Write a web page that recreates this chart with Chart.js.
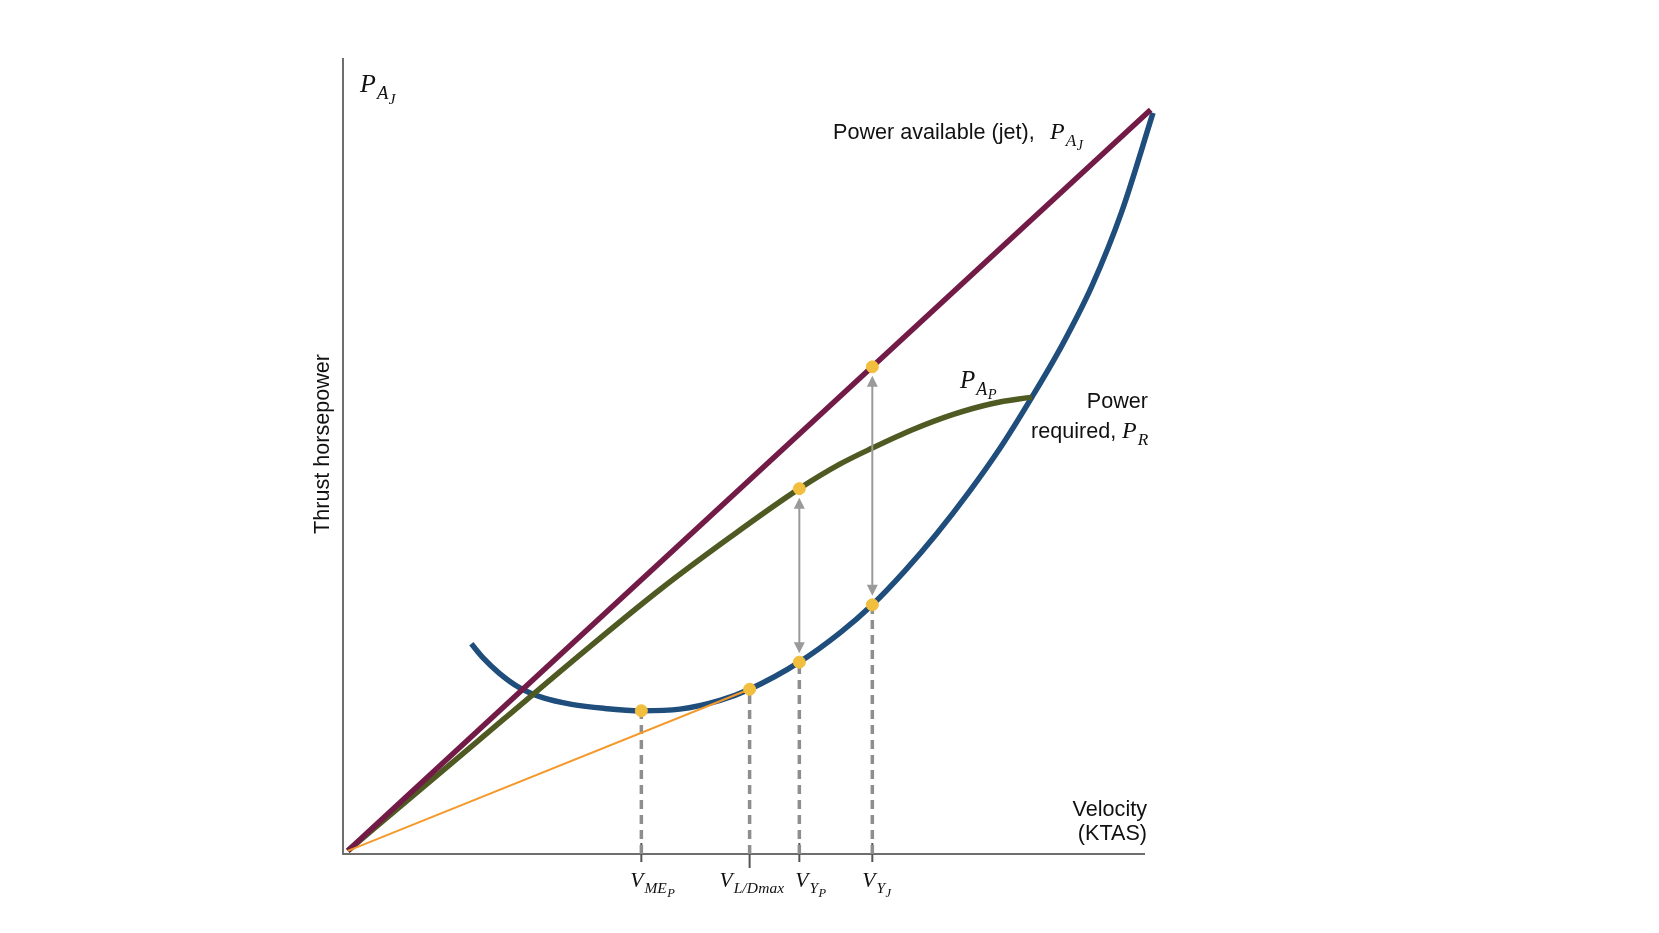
<!DOCTYPE html>
<html>
<head>
<meta charset="utf-8">
<script src="https://cdn.jsdelivr.net/npm/chart.js@4.4.1/dist/chart.umd.min.js"></script>
<style>
    html, body { margin: 0; padding: 0; background: #fff; }
    canvas { display: block; }
</style>
</head>
<body>
<canvas id="myChart" width="1659" height="933"></canvas>
<script>
// velocity (x) and thrust horsepower (y), both in relative units 0..100
const jetVel = [0.6, 100.7];
const jetPower = [0.4, 93.5];

const propVel = [0.6, 10, 20, 30, 39.5, 48, 56.9, 62, 66, 71, 76, 81, 85.9];
const propPower = [0.4, 8.4, 16.9, 25.4, 33.2, 39.6, 45.9, 49.0, 51.0, 53.3, 55.2, 56.6, 57.4];

const reqVel = [16.0, 17.5, 19.5, 22.0, 25.0, 28.5, 32.5, 37.2, 42.0, 47.0, 50.7, 56.9, 62.0, 66.0, 70, 74, 78, 82, 85.9, 89.65, 93.4, 97.1, 101.0];
const reqPower = [26.4, 24.6, 22.7, 20.9, 19.6, 18.8, 18.3, 18.0, 18.2, 19.3, 20.7, 24.1, 27.8, 31.3, 35.5, 40.2, 45.4, 51.1, 57.4, 63.9, 71.4, 80.7, 93.1];

// marked speeds: V_MEp, V_L/Dmax, V_Yp, V_Yj and power required there
const markVel = [37.2, 50.7, 56.9, 66.0];
const markReq = [18.0, 20.7, 24.1, 31.3];
const propAtVyp = 45.9;   // prop power available at V_Yp
const jetAtVyj = 61.2;    // jet power available at V_Yj

// tick labels: [text, level] (level 1 = subscript, 2 = sub-subscript)
const markLabels = [
    [['V', 0], ['ME', 1], ['P', 2]],
    [['V', 0], ['L/D', 1], ['max', 1]],
    [['V', 0], ['Y', 1], ['P', 2]],
    [['V', 0], ['Y', 1], ['J', 2]]
];

const pts = (xs, ys) => xs.map((x, i) => ({ x: x, y: ys[i] }));

const dots = pts(markVel, markReq).concat([
    { x: markVel[2], y: propAtVyp },
    { x: markVel[3], y: jetAtVyj }
]);

// dashed drops from each marked point to the axis
const drops = markVel.map((v, i) => ({
    type: 'line',
    data: [{ x: v, y: 0 }, { x: v, y: markReq[i] }],
    borderColor: '#8e8e8e',
    borderWidth: 3.5,
    borderDash: [9, 6],
    pointRadius: 0,
    clip: false,
    order: 3
}));

const SANS = '21.6px "Liberation Sans", Arial, Helvetica, sans-serif';

// draws italic serif symbols with subscripts
function mathText(ctx, x, y, parts, base) {
    const scale = [1, 0.72, 0.58];
    const drop = [0, 0.28, 0.45];
    ctx.textAlign = 'left';
    ctx.textBaseline = 'alphabetic';
    parts.forEach(([t, l]) => {
        ctx.font = 'italic ' + (base * scale[l]) + 'px "Liberation Serif", "Times New Roman", serif';
        ctx.fillText(t, x, y + base * drop[l]);
        x += ctx.measureText(t).width + (l === 0 ? 1 : 0.5);
    });
}

function arrowHead(ctx, x, y, dir) {
    ctx.beginPath();
    ctx.moveTo(x, y);
    ctx.lineTo(x - 5.5, y + dir * 11);
    ctx.lineTo(x + 5.5, y + dir * 11);
    ctx.closePath();
    ctx.fill();
}

const decorPlugin = {
    id: 'decor',
    beforeDatasetsDraw(chart) {
        const ctx = chart.ctx;
        const xs = chart.scales.x, ys = chart.scales.y;
        const a = chart.chartArea;
        const x0 = xs.getPixelForValue(0), y0 = ys.getPixelForValue(0);
        ctx.save();
        ctx.strokeStyle = '#6e6e6e';
        ctx.lineWidth = 2;
        ctx.beginPath();
        ctx.moveTo(x0, a.top);
        ctx.lineTo(x0, y0);
        ctx.lineTo(a.right, y0);
        ctx.stroke();
        // tick marks at the marked speeds
        ctx.strokeStyle = '#555';
        markVel.forEach((v, i) => {
            const px = xs.getPixelForValue(v);
            ctx.beginPath();
            ctx.moveTo(px, y0 - (i === 1 ? 4 : 11));
            ctx.lineTo(px, y0 + (i === 1 ? 14 : 8));
            ctx.stroke();
        });
        ctx.restore();
    },
    beforeDatasetDraw(chart, args) {
        if (args.index !== 0) return;
        // double arrows between available and required power
        const ctx = chart.ctx;
        const xs = chart.scales.x, ys = chart.scales.y;
        const pairs = [[markVel[2], propAtVyp, markReq[2]], [markVel[3], jetAtVyj, markReq[3]]];
        ctx.save();
        ctx.strokeStyle = '#9a9a9a';
        ctx.fillStyle = '#9a9a9a';
        ctx.lineWidth = 2;
        pairs.forEach(([v, top, bot]) => {
            const px = xs.getPixelForValue(v);
            const yt = ys.getPixelForValue(top) + 9;
            const yb = ys.getPixelForValue(bot) - 9;
            ctx.beginPath();
            ctx.moveTo(px, yt + 6);
            ctx.lineTo(px, yb - 6);
            ctx.stroke();
            arrowHead(ctx, px, yt, 1);
            arrowHead(ctx, px, yb, -1);
        });
        ctx.restore();
    },
    afterDraw(chart) {
        const ctx = chart.ctx;
        const xs = chart.scales.x, ys = chart.scales.y;
        const y0 = ys.getPixelForValue(0);
        ctx.save();
        ctx.fillStyle = '#111';

        // x tick labels
        const shift = [-11, -30, -4, -10];
        markVel.forEach((v, i) => {
            mathText(ctx, xs.getPixelForValue(v) + shift[i], y0 + 33, markLabels[i], 21.5);
        });

        mathText(ctx, 360, 92, [['P', 0], ['A', 1], ['J', 2]], 26);

        ctx.font = SANS;
        ctx.textAlign = 'left';
        ctx.fillText('Power available (jet),', 833, 139);
        mathText(ctx, 1050, 139, [['P', 0], ['A', 1], ['J', 2]], 24);

        mathText(ctx, 960, 388, [['P', 0], ['A', 1], ['P', 2]], 25);

        ctx.font = SANS;
        ctx.textAlign = 'right';
        ctx.fillText('Power', 1148, 408);
        ctx.textAlign = 'left';
        ctx.fillText('required,', 1031, 438);
        mathText(ctx, 1122, 438, [['P', 0], ['R', 1]], 24);

        ctx.font = SANS;
        ctx.textAlign = 'right';
        ctx.fillText('Velocity', 1147, 816);
        ctx.fillText('(KTAS)', 1147, 840);

        ctx.translate(323, 444);
        ctx.rotate(-Math.PI / 2);
        ctx.textAlign = 'center';
        ctx.textBaseline = 'middle';
        ctx.fillText('Thrust horsepower', 0, 0);
        ctx.restore();
    }
};

let ctx = document.getElementById('myChart');
new Chart(ctx, {
    type: 'line',
    data: {
        datasets: [
            {
                type: 'scatter',
                data: dots,
                backgroundColor: '#f1be3e',
                borderColor: '#f1be3e',
                pointRadius: 6,
                pointHoverRadius: 6,
                clip: false,
                order: 0
            },
            {
                data: [{ x: jetVel[0], y: jetPower[0] }, { x: markVel[1], y: markReq[1] }],
                borderColor: '#f39a2b',
                borderWidth: 2,
                pointRadius: 0,
                clip: false,
                order: 2
            },
            {
                data: pts(jetVel, jetPower),
                borderColor: '#721b46',
                borderWidth: 5.5,
                pointRadius: 0,
                clip: false,
                order: 4
            },
            {
                data: pts(propVel, propPower),
                borderColor: '#4f5a22',
                borderWidth: 5.5,
                pointRadius: 0,
                cubicInterpolationMode: 'monotone',
                clip: false,
                order: 5
            },
            {
                data: pts(reqVel, reqPower),
                borderColor: '#1f4d7c',
                borderWidth: 5.5,
                pointRadius: 0,
                cubicInterpolationMode: 'monotone',
                clip: false,
                order: 6
            }
        ].concat(drops)
    },
    options: {
        responsive: false,
        devicePixelRatio: 1,
        animation: false,
        layout: { padding: { left: 343, top: 58, right: 514, bottom: 79 } },
        plugins: { legend: { display: false }, tooltip: { enabled: false } },
        scales: {
            x: { type: 'linear', display: false, min: 0, max: 100 },
            y: { type: 'linear', display: false, min: 0, max: 100 }
        }
    },
    plugins: [decorPlugin]
});
</script>
</body>
</html>
